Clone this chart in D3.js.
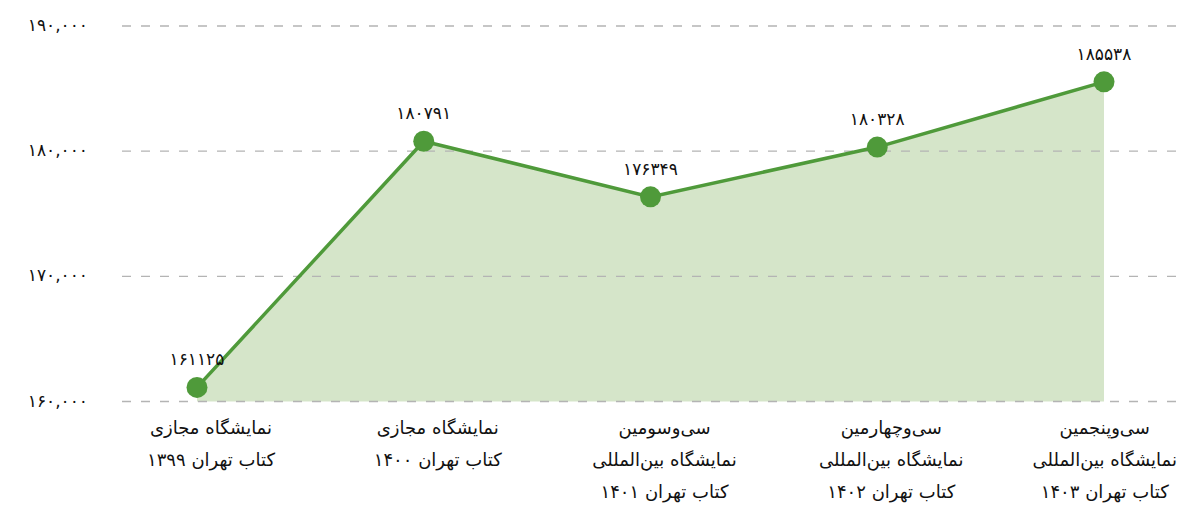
<!DOCTYPE html>
<html>
<head>
<meta charset="utf-8">
<script src="https://cdn.jsdelivr.net/npm/d3@7"></script>
<style>
	body { margin: 0; background: #fff; }
	svg { display: block; font-family: "DejaVu Sans", sans-serif; }
	.grid line { stroke: #b4b4b4; stroke-width: 1.3; stroke-dasharray: 9 10; }
	.axis-label { fill: #111; font-size: 17px; letter-spacing: 1.5px; }
	.cat-label { fill: #111; font-size: 18px; }
	.value-label { fill: #111; font-size: 17px; }
</style>
</head>
<body>
<div id="chart"></div>
<script>
const categories = [
	["نمایشگاه مجازی", "کتاب تهران ۱۳۹۹"],
	["نمایشگاه مجازی", "کتاب تهران ۱۴۰۰"],
	["سی‌وسومین", "نمایشگاه بین‌المللی", "کتاب تهران ۱۴۰۱"],
	["سی‌وچهارمین", "نمایشگاه بین‌المللی", "کتاب تهران ۱۴۰۲"],
	["سی‌وپنجمین", "نمایشگاه بین‌المللی", "کتاب تهران ۱۴۰۳"]
];
const values = [161125, 180791, 176349, 180328, 185538];
const yTicks = [160000, 170000, 180000, 190000];

const width = 1180, height = 508;
const lineColor = "#4f9a3a", areaColor = "#d5e5c9";

// western digits to persian digits
const faDigits = "۰۱۲۳۴۵۶۷۸۹";
function toFa(s) {
	return String(s).replace(/[0-9]/g, c => faDigits[+c]);
}

const svg = d3.select("#chart").append("svg")
	.attr("width", width)
	.attr("height", height);

const x = d3.scalePoint()
	.domain(d3.range(categories.length))
	.range([197, 1104]);

const y = d3.scaleLinear()
	.domain([160000, 190000])
	.range([401.5, 26]);

const data = values.map((v, i) => ({ i: i, v: v }));

// area under the line
const area = d3.area()
	.x(d => x(d.i))
	.y0(y(160000))
	.y1(d => y(d.v));

svg.append("path")
	.datum(data)
	.attr("fill", areaColor)
	.attr("d", area);

// gridlines, drawn over the fill
const grid = svg.append("g").attr("class", "grid");
grid.selectAll("line")
	.data(yTicks)
	.join("line")
	.attr("x1", 122)
	.attr("x2", width)
	.attr("y1", d => y(d))
	.attr("y2", d => y(d));

// y tick labels
svg.append("g")
	.selectAll("text")
	.data(yTicks)
	.join("text")
	.attr("class", "axis-label")
	.attr("x", 88)
	.attr("y", d => y(d) + 5)
	.attr("text-anchor", "end")
	.text(d => toFa(d3.format(",")(d)));

const line = d3.line()
	.x(d => x(d.i))
	.y(d => y(d.v));

svg.append("path")
	.datum(data)
	.attr("fill", "none")
	.attr("stroke", lineColor)
	.attr("stroke-width", 3.5)
	.attr("d", line);

svg.append("g")
	.selectAll("circle")
	.data(data)
	.join("circle")
	.attr("cx", d => x(d.i))
	.attr("cy", d => y(d.v))
	.attr("r", 10.5)
	.attr("fill", lineColor);

// value labels
svg.append("g")
	.selectAll("text")
	.data(data)
	.join("text")
	.attr("class", "value-label")
	.attr("x", d => x(d.i))
	.attr("y", d => y(d.v) - 22)
	.attr("text-anchor", "middle")
	.text(d => toFa(d.v));

// category labels, one tspan per line
const cat = svg.append("g")
	.selectAll("text")
	.data(categories)
	.join("text")
	.attr("class", "cat-label")
	.attr("direction", "rtl")
	.attr("text-anchor", "middle");

cat.selectAll("tspan")
	.data(d => d)
	.join("tspan")
	.attr("x", 0)
	.attr("y", (d, j) => 434 + j * 32)
	.text(d => d);

// keep the last label inside the picture
cat.attr("transform", function(d, i) {
	const half = this.getBBox().width / 2;
	const cx = Math.min(x(i) + 14, width - half - 3);
	return `translate(${cx},0)`;
});
</script>
</body>
</html>
